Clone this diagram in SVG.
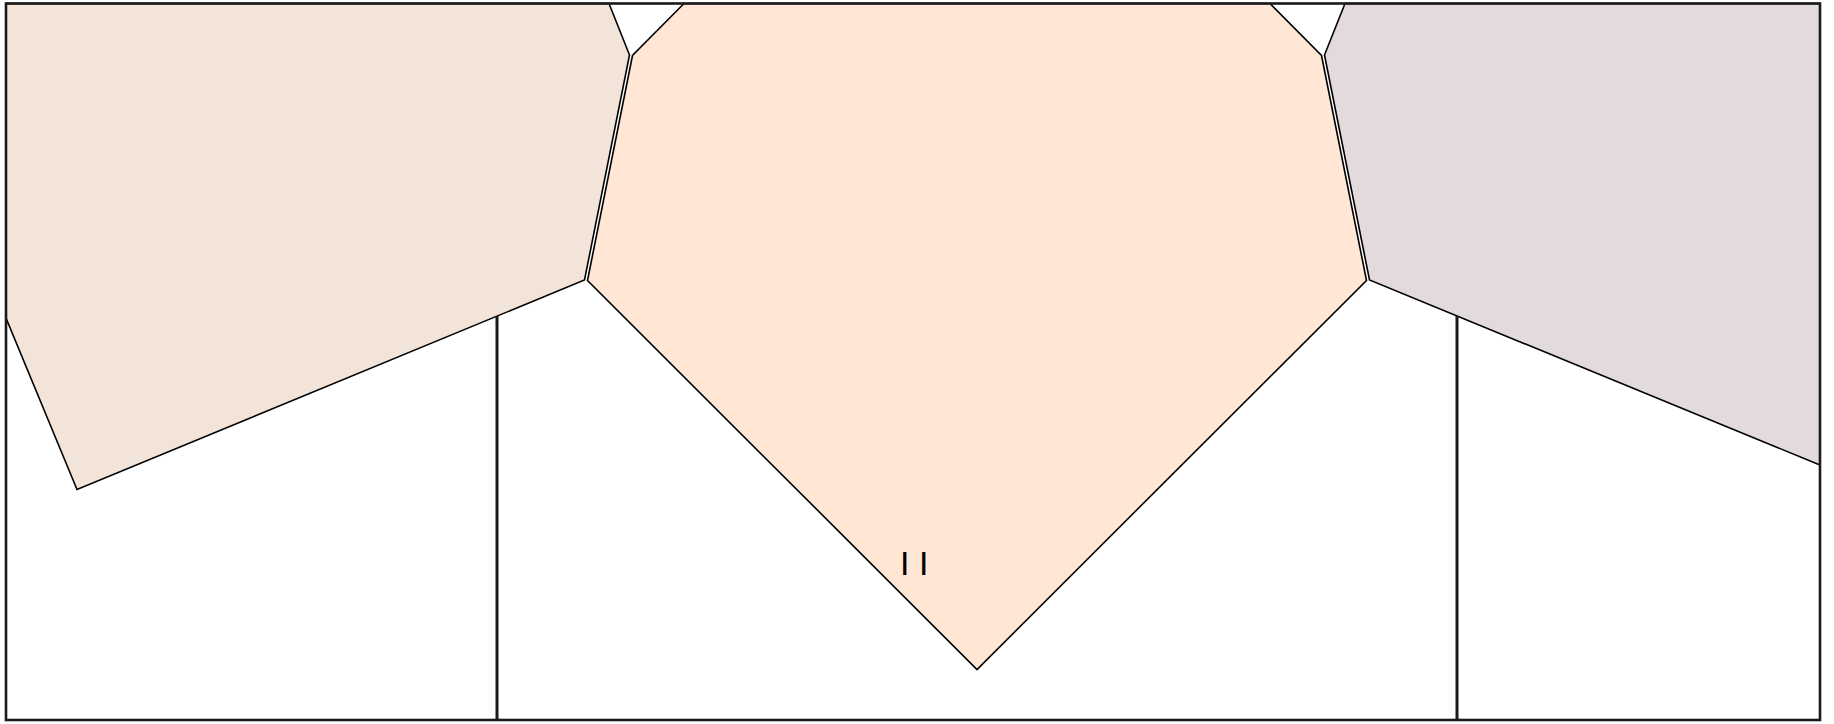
<svg xmlns="http://www.w3.org/2000/svg" width="1834" height="724" viewBox="0 0 1834 724">
<style>
.poly{stroke:#000;stroke-width:1.6;stroke-linejoin:miter}
.frame{fill:none;stroke:#1a1a1a;stroke-width:2.6}
.wall{stroke:#1a1a1a;stroke-width:3}
.lbl{font-family:"Liberation Sans",Arial,sans-serif;font-size:34px;fill:#000}
</style>
<rect width="1834" height="724" fill="#fff"/>
<g id="left-region">
<polygon class="poly" fill="#f3e4d9" points="6,3.5 609,3.5 629.5,55 584.5,280 77,489.5 6,318"/>
</g>
<g id="center-region">
<polygon class="poly" fill="#ffe6d5" points="684,3.5 632.5,55.5 587.5,280.5 977,669.5 1366.5,280.5 1321.5,55.5 1270,3.5"/>
</g>
<g id="right-region">
<polygon class="poly" fill="#e2dadb" points="1345,3.5 1820,3.5 1820,465 1369.5,280 1324.5,55"/>
</g>
<g id="connectors">
<line class="wall" x1="497" y1="316" x2="497" y2="720"/>
<line class="wall" x1="1457" y1="316" x2="1457" y2="720"/>
</g>
<g id="frame">
<rect class="frame" x="6" y="3.5" width="1814" height="716.5"/>
</g>
<g id="label">
<text class="lbl" x="900" y="575">I I</text>
</g>
</svg>
